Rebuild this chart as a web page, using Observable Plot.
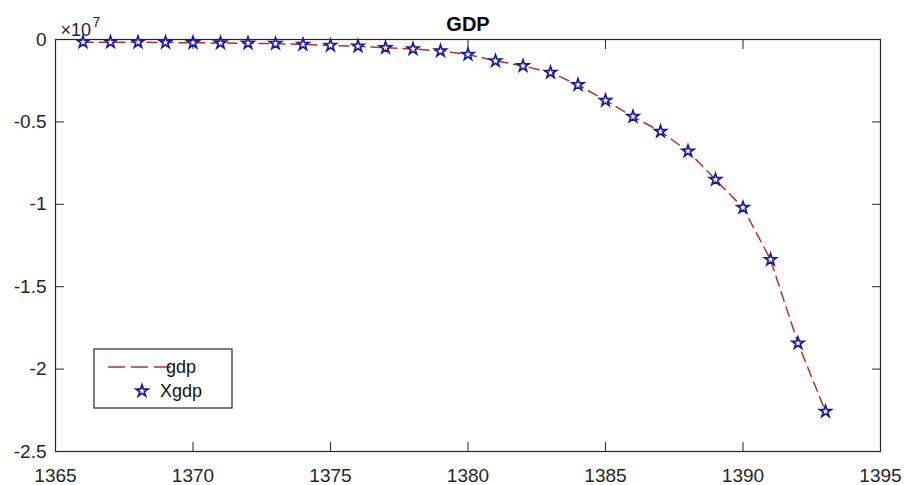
<!DOCTYPE html>
<html><head><meta charset="utf-8">
<script src="https://cdn.jsdelivr.net/npm/d3@7"></script>
<script src="https://cdn.jsdelivr.net/npm/@observablehq/plot@0.6"></script>
<style>
html,body{margin:0;padding:0;background:#fff;}
#chart svg{display:block;}
</style></head><body><div id="chart"></div>
<script>
// ---- data (values in units of 10^7) ----
const years = [1366,1367,1368,1369,1370,1371,1372,1373,1374,1375,1376,1377,1378,1379,
               1380,1381,1382,1383,1384,1385,1386,1387,1388,1389,1390,1391,1392,1393];
const gdpE7 = [-0.016,-0.016,-0.017,-0.018,-0.020,-0.021,-0.023,-0.025,-0.030,-0.036,-0.041,-0.050,-0.057,-0.070,
               -0.091,-0.130,-0.160,-0.200,-0.275,-0.370,-0.468,-0.558,-0.678,-0.850,-1.020,-1.336,-1.843,-2.257];
const xTicks = [1365,1370,1375,1380,1385,1390,1395];
const yTicks = [0,-0.5,-1,-1.5,-2,-2.5];
const yTickLabels = ["0","-0.5","-1","-1.5","-2","-2.5"];
const seriesNames = ["gdp","Xgdp"];
const titleText = "GDP";
const exponentBase = "×10";
const exponentPower = "7";

const data = years.map((year, i) => ({year, value: gdpE7[i]}));

const font = "'Liberation Sans', Arial, Helvetica, sans-serif";
const ink = "#262626";
const lineColor = "#b5302b";
const starColor = "#1a1a9c";
const starFill = "#ffffff";
const starR = 3.7;
const dash = "10,6";

const plot = Plot.plot({
  width: 904, height: 485,
  marginLeft: 55, marginRight: 24, marginTop: 39, marginBottom: 34,
  style: {fontFamily: font, fontSize: "19px", color: ink, background: "white", overflow: "visible"},
  x: {domain: [1365, 1395]},
  y: {domain: [-2.5, 0]},
  marks: [
    // tick marks pointing inward on all four sides (no text)
    Plot.axisX(xTicks, {anchor: "bottom", tickSize: -9, fill: "none", label: null, stroke: ink}),
    Plot.axisX(xTicks, {anchor: "top", tickSize: -9, fill: "none", label: null, stroke: ink}),
    Plot.axisY(yTicks, {anchor: "left", tickSize: -9, fill: "none", label: null, stroke: ink}),
    Plot.axisY(yTicks, {anchor: "right", tickSize: -9, fill: "none", label: null, stroke: ink}),
    // tick labels
    Plot.axisX(xTicks, {anchor: "bottom", tickSize: 0, tickPadding: 17, label: null, fill: ink,
                        tickFormat: d => String(d)}),
    Plot.axisY(yTicks, {anchor: "left", tickSize: 0, tickPadding: 9, label: null, fill: ink,
                        tickFormat: d => yTickLabels[yTicks.indexOf(d)]}),
    Plot.frame({stroke: ink, strokeWidth: 1.2}),
    // series
    Plot.line(data, {x: "year", y: "value", stroke: lineColor, strokeWidth: 1.5, strokeDasharray: dash}),
    Plot.dot(data, {x: "year", y: "value", symbol: "star", r: starR, stroke: starColor, strokeWidth: 1.7, fill: starFill}),
    // title and exponent
    Plot.text([titleText], {frameAnchor: "top", text: d => d, dy: -9, lineAnchor: "bottom",
                            fontSize: 20, fontWeight: "bold", fill: "#000"}),
    Plot.text([exponentBase], {frameAnchor: "top-left", text: d => d, textAnchor: "start", lineAnchor: "bottom",
                               dx: 5, dy: -4, fontSize: 18, fill: ink}),
    Plot.text([exponentPower], {frameAnchor: "top-left", text: d => d, textAnchor: "start", lineAnchor: "bottom",
                                dx: 37, dy: -13, fontSize: 14, fill: ink})
  ]
});
document.getElementById("chart").appendChild(plot);

// ---- legend (inside plot, lower-left) ----
const svg = d3.select(plot);
const lg = svg.append("g").attr("font-family", font).attr("font-size", 18);
lg.append("rect").attr("x", 94).attr("y", 349).attr("width", 138).attr("height", 59)
  .attr("fill", "white").attr("stroke", ink).attr("stroke-width", 1.2);
lg.append("line").attr("x1", 108).attr("x2", 172).attr("y1", 367).attr("y2", 367)
  .attr("stroke", lineColor).attr("stroke-width", 1.5).attr("stroke-dasharray", "17,6");
lg.append("path").attr("transform", "translate(142,391)")
  .attr("d", d3.symbol(d3.symbolStar, Math.PI * starR * starR)())
  .attr("stroke", starColor).attr("stroke-width", 1.7).attr("fill", starFill);
lg.selectAll("text.lbl").data(seriesNames).join("text")
  .attr("x", 181).attr("y", (d, i) => 367 + i * 24).attr("dy", "0.35em")
  .attr("fill", "#111").text(d => d);
</script></body></html>
